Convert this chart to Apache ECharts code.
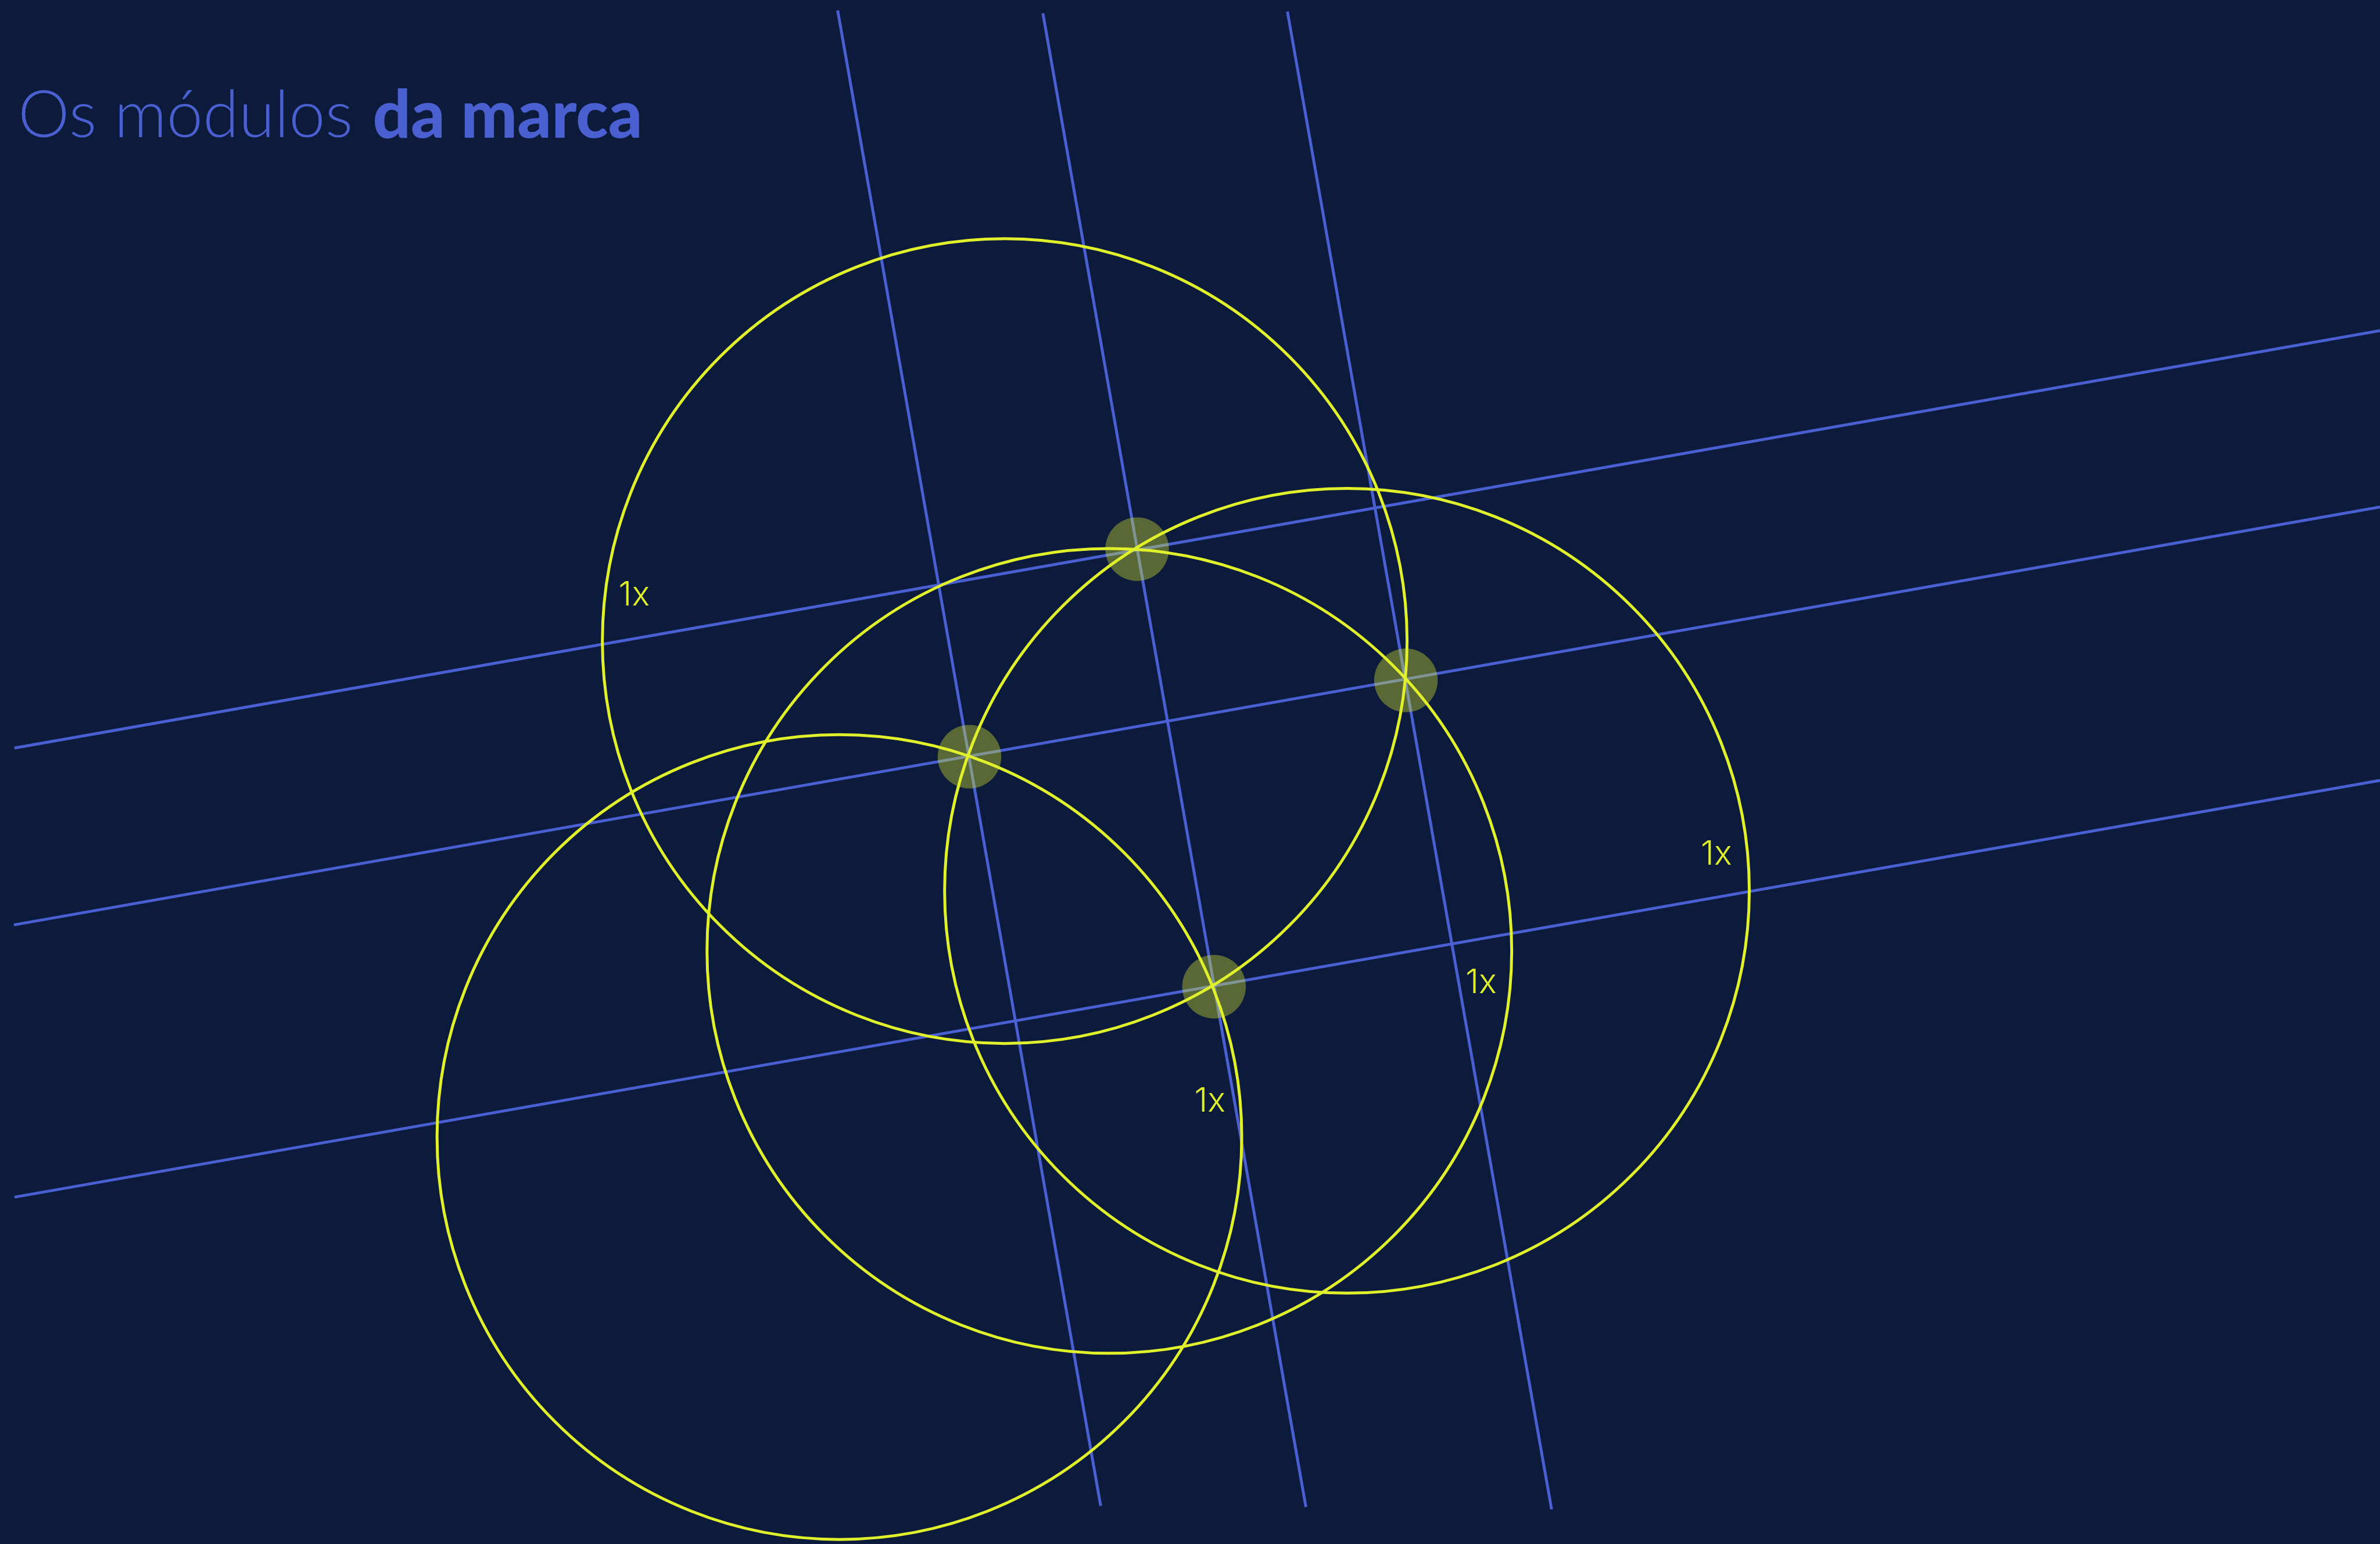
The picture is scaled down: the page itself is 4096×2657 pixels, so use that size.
<!DOCTYPE html>
<html>
<head>
<meta charset="utf-8">
<script src="https://cdn.jsdelivr.net/npm/echarts@6/dist/echarts.min.js"></script>
<style>
  html, body { margin: 0; padding: 0; background: #0c1a3c; }
  #chart { width: 4096px; height: 2657px; }
</style>
</head>
<body>
<div id="chart"></div>
<script>
// data space = reference pixels (4117 x 2671)
const xMax = 4117
const yMax = 2671

// guide lines: [x1, y1, x2, y2]
const steepLines = [
  [1449, 18, 1904, 2605],
  [1804, 23, 2259, 2607],
  [2227, 20, 2684, 2611]
]
const shallowLines = [
  [25, 1294, 4117, 572],
  [24, 1600, 4117, 877],
  [25, 2071, 4117, 1350]
]

// module circles
const circleCenters = [[1738, 1109], [1919, 1645], [2330, 1541], [1452, 1967]]
const circleRadii = [696, 696, 696, 696]

// intersection nodes
const nodePoints = [[1967, 950], [2432, 1177], [1677, 1309], [2100, 1707]]
const nodeRadius = 55

// "1x" labels
const labelPoints = [[1097, 1030], [2969, 1478], [2562, 1700], [2093, 1906]]
const labelTexts = ['1x', '1x', '1x', '1x']

const blue = '#4a60d2'
const yellow = '#e0f02a'

const chart = echarts.init(document.getElementById('chart'))

const lineSeries = steepLines.concat(shallowLines).map(l => ({
  type: 'line',
  data: [[l[0], l[1]], [l[2], l[3]]],
  symbol: 'none',
  silent: true,
  z: 1,
  lineStyle: { color: blue, width: 5 }
}))

chart.setOption({
  backgroundColor: '#0c1a3c',
  animation: false,
  title: {
    text: '{l|Os módulos}{b|da marca}',
    left: 26,
    top: 130,
    textStyle: {
      rich: {
        l: { fontFamily: 'Lato', fontWeight: 300, fontSize: 112, lineHeight: 130, color: '#4a5fd0' },
        b: { fontFamily: 'Lato', fontWeight: 900, fontSize: 115, lineHeight: 130, color: '#4a5fd0', padding: [0, 0, 0, 34] }
      }
    }
  },
  grid: { left: 0, right: 0, top: 0, bottom: 0 },
  xAxis: { type: 'value', min: 0, max: xMax, show: false },
  yAxis: { type: 'value', min: 0, max: yMax, inverse: true, show: false },
  series: lineSeries.concat([
    {
      type: 'custom',
      name: 'nodes',
      z: 2,
      silent: true,
      data: nodePoints,
      renderItem(params, api) {
        const c = api.coord([api.value(0), api.value(1)])
        const r = api.size([nodeRadius, 0])[0]
        return {
          type: 'circle',
          shape: { cx: c[0], cy: c[1], r },
          style: { fill: 'rgba(222, 240, 44, 0.37)' }
        }
      }
    },
    {
      type: 'custom',
      name: 'modules',
      z: 3,
      silent: true,
      data: circleCenters.map((c, i) => [c[0], c[1], circleRadii[i]]),
      renderItem(params, api) {
        const c = api.coord([api.value(0), api.value(1)])
        const r = api.size([api.value(2), 0])[0]
        return {
          type: 'circle',
          shape: { cx: c[0], cy: c[1], r },
          style: { fill: 'none', stroke: yellow, lineWidth: 5 }
        }
      }
    },
    {
      type: 'custom',
      name: 'labels',
      z: 4,
      silent: true,
      data: labelPoints.map((p, i) => [p[0], p[1], i]),
      renderItem(params, api) {
        const c = api.coord([api.value(0), api.value(1)])
        return {
          type: 'text',
          x: c[0],
          y: c[1],
          style: {
            text: labelTexts[api.value(2)],
            fill: yellow,
            fontFamily: 'Inter',
            fontWeight: 300,
            fontSize: 58,
            align: 'center',
            verticalAlign: 'middle'
          }
        }
      }
    }
  ])
})
</script>
</body>
</html>
